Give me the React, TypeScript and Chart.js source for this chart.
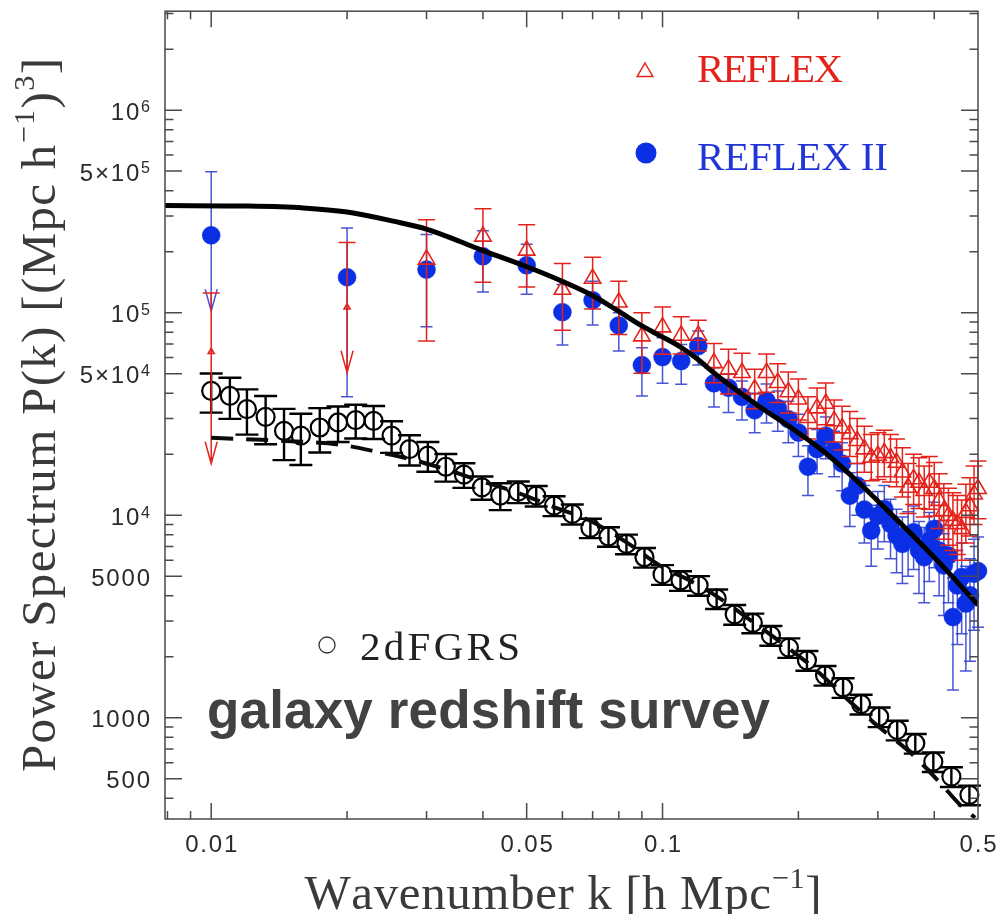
import React, { useEffect, useRef } from "react";
import { Chart, registerables } from "chart.js";

Chart.register(...registerables);

// ---------------- data ----------------
// REFLEX (red open triangles)
const reflexK = [
  0.01, 0.02, 0.03, 0.04, 0.05, 0.06, 0.07, 0.08, 0.09, 0.1,
  0.11, 0.12, 0.13, 0.14, 0.15, 0.16, 0.17, 0.18, 0.19, 0.2,
  0.21, 0.22, 0.23, 0.24, 0.25, 0.26, 0.27, 0.28, 0.29, 0.3,
  0.31, 0.32, 0.33, 0.34, 0.35, 0.36, 0.37, 0.38, 0.39, 0.4,
  0.41, 0.42, 0.43, 0.44, 0.45, 0.46, 0.47, 0.48, 0.49, 0.5,
];
const reflexP = [
  64100, 106400, 183400, 238000, 203100, 130100, 147400, 112600, 76600, 84800,
  77200, 77200, 56500, 52500, 50500, 41900, 50500, 45100, 40600, 37400,
  30300, 33800, 35600, 29200, 26900, 25200, 23300, 21200, 19300, 19700,
  20300, 19200, 18200, 16300, 13700, 15100, 14500, 13200, 14500, 13500,
  11800, 10500, 9950, 9410, 9060, 8560, 10300, 11100, 12700, 13500,
];
const reflexLo = [
  17950, 50500, 72400, 141300, 134000, 82000, 104400, 78100, 50200, 62300,
  62500, 64600, 45100, 39700, 40000, 33500, 40500, 36000, 32000, 29500,
  23800, 26800, 28000, 23000, 21000, 19500, 18000, 16300, 14800, 15000,
  15500, 14600, 13800, 12300, 10200, 11300, 10800, 9800, 10700, 9900,
  8600, 7600, 7100, 6700, 6400, 6000, 7300, 7900, 9000, 9600,
];
const reflexHi = [
  125000, 222000, 287600, 326000, 272000, 174700, 187700, 142900, 99800, 106800,
  95400, 91800, 70500, 65900, 63000, 52500, 62500, 56000, 51000, 47000,
  38500, 42500, 45000, 37000, 34500, 32500, 30000, 27500, 25000, 25500,
  26300, 25000, 23800, 21500, 18000, 20000, 19200, 17500, 19500, 18200,
  16000, 14300, 13600, 12900, 12500, 11900, 14200, 15300, 17500, 18500,
];
const reflexUpperLimits = [0.01, 0.02];

// REFLEX II (blue filled circles)
const reflex2K = [
  0.01, 0.02, 0.03, 0.04, 0.05, 0.06, 0.07, 0.08, 0.09, 0.1,
  0.11, 0.12, 0.13, 0.14, 0.15, 0.16, 0.17, 0.18, 0.19, 0.2,
  0.21, 0.22, 0.23, 0.24, 0.25, 0.26, 0.27, 0.28, 0.29, 0.3,
  0.31, 0.32, 0.33, 0.34, 0.35, 0.36, 0.37, 0.38, 0.39, 0.4,
  0.41, 0.42, 0.43, 0.44, 0.45, 0.46, 0.47, 0.48, 0.49, 0.5,
];
const reflex2P = [
  241000, 149600, 163200, 189800, 171400, 100600, 115200, 86500, 55100, 60400,
  57700, 68400, 44800, 42600, 38400, 33000, 36700, 33800, 29800, 25600,
  17350, 21200, 24700, 20800, 18000, 12490, 14000, 10660, 8400, 9950,
  10740, 9060, 7940, 7220, 7670, 8240, 6690, 6200, 7500, 8560,
  6690, 5650, 6320, 3140, 4500, 4950, 3660, 4020, 5140, 5300,
];
const reflex2Lo = [
  101700, 38400, 85100, 126600, 123400, 69200, 86800, 64600, 38800, 44800,
  44300, 55100, 34200, 32100, 29500, 25500, 28500, 26000, 22800, 19500,
  12500, 16000, 19000, 15500, 13200, 8800, 10000, 7300, 5600, 6800,
  7400, 6100, 5200, 4600, 5000, 5400, 4100, 3700, 4700, 5500,
  4000, 3200, 3700, 1370, 2300, 2600, 1700, 1900, 2700, 2800,
];
const reflex2Hi = [
  497000, 262000, 243500, 254000, 218000, 137600, 142900, 99800, 67100, 75100,
  69700, 81100, 53500, 49800, 46000, 40000, 44500, 41000, 36500, 31500,
  22000, 26500, 30500, 26000, 22800, 16200, 18000, 14000, 11200, 13100,
  14000, 12000, 10700, 9800, 10400, 11100, 9300, 8700, 10300, 11600,
  9400, 8100, 8900, 4900, 6700, 7300, 5600, 6100, 7600, 7800,
];
const reflex2UpperLimits = [0.01];

// 2dFGRS (black open circles)
const twodfK = [
  0.01, 0.011, 0.012, 0.0132, 0.0145, 0.0158, 0.0174, 0.0191, 0.0209, 0.0229,
  0.0251, 0.0275, 0.0302, 0.0331, 0.0363, 0.0398, 0.0437, 0.0479, 0.0525, 0.0575,
  0.0631, 0.0692, 0.0759, 0.0832, 0.0912, 0.1, 0.1096, 0.1202, 0.1318, 0.1445,
  0.1585, 0.1738, 0.1905, 0.2089, 0.2291, 0.2512, 0.2754, 0.302, 0.3311, 0.3631,
  0.3981, 0.4365, 0.4786,
];
const twodfP = [
  41100, 38800, 33400, 30600, 26100, 24700, 27100, 28700, 29500, 29200,
  24700, 21200, 19700, 17350, 15850, 13720, 12490, 13070, 12490, 11150,
  10150, 8660, 7850, 7220, 6200, 5100, 4760, 4500, 3870, 3240,
  2940, 2550, 2220, 1920, 1620, 1410, 1168, 1011, 870, 748,
  607, 512, 416,
];
const twodfErr = [
  9000, 8900, 8400, 8200, 7400, 7000, 6700, 5700, 5600, 5400,
  4400, 3600, 3300, 2700, 2200, 1800, 1900, 1600, 1450, 1250,
  1150, 950, 870, 800, 690, 570, 530, 500, 430, 360,
  325, 285, 245, 215, 180, 157, 130, 112, 97, 83,
  67, 57, 46,
];

// model curves
const modelK = [
  0.0079, 0.012, 0.016, 0.02, 0.0253, 0.0301, 0.0357, 0.0399, 0.0499, 0.0599,
  0.0698, 0.0797, 0.0896, 0.0992, 0.1098, 0.1189, 0.1292, 0.1361, 0.1619, 0.1915,
  0.2265, 0.2694, 0.3187, 0.3771, 0.426, 0.5,
];
const modelP = [
  338000, 336000, 329000, 314000, 283000, 258000, 224000, 203000, 169000, 143000,
  122000, 102000, 86500, 76600, 67500, 59500, 51000, 46500, 35000, 27300,
  20800, 14800, 10300, 7090, 5340, 3600,
];
const linearK = [
  0.01, 0.015, 0.0193, 0.0237, 0.0274, 0.0327, 0.0394, 0.0475, 0.0571, 0.0689,
  0.0831, 0.1, 0.1158, 0.136, 0.156, 0.1879, 0.2183, 0.2625, 0.3018, 0.3574,
  0.4111, 0.456, 0.4924,
];
const linearP = [
  24100, 23200, 22300, 20400, 19000, 17000, 14800, 12970, 11030, 9410,
  7360, 5540, 4720, 3800, 3050, 2250, 1730, 1180, 900, 660,
  480, 372, 321,
];

// axes
const xMin = 0.0079;
const xMax = 0.5;
const yMin = 316.2;
const yMax = 3.08e6;
const xTickValues = [0.01, 0.05, 0.1, 0.5];
const xTickLabels = ["0.01", "0.05", "0.1", "0.5"];
const xMinorTicks = [0.008, 0.009, 0.02, 0.03, 0.04, 0.06, 0.07, 0.08, 0.09, 0.2, 0.3, 0.4];
const yTickValues = [500, 1000, 5000, 10000, 50000, 100000, 500000, 1000000];
const yTickLabels = ["500", "1000", "5000", "10^4", "5×10^4", "10^5", "5×10^5", "10^6"];

const xTitle = "Wavenumber k [h Mpc^{−1}]";
const yTitle = "Power Spectrum P(k) [(Mpc h^{−1})^3]";
const legendReflex = "REFLEX";
const legendReflex2 = "REFLEX II";
const legend2df = "2dFGRS";
const annotation = "galaxy redshift survey";

// ---------------- helpers ----------------
const SERIF = '"Liberation Serif", "Times New Roman", serif';
const SANS = '"Liberation Sans", Arial, sans-serif';
const RED = "#e3231b";
const BLUE = "#0b2fe4";

type Glyph = { ch: string; sup: boolean };
function parseRich(s: string): Glyph[] {
  const out: Glyph[] = [];
  for (let i = 0; i < s.length; i++) {
    const c = s[i];
    if (c === "^") {
      if (s[i + 1] === "{") {
        const end = s.indexOf("}", i + 2);
        for (const ch of s.slice(i + 2, end)) out.push({ ch, sup: true });
        i = end;
      } else {
        out.push({ ch: s[i + 1], sup: true });
        i++;
      }
    } else out.push({ ch: c, sup: false });
  }
  return out;
}

type RichOpts = {
  size: number;
  family: string;
  weight?: string;
  color: string;
  align: "left" | "center" | "right";
  spacing?: number;
  width?: number;
  supScale?: number;
  supRise?: number;
};
function drawRich(ctx: CanvasRenderingContext2D, text: string, x: number, y: number, o: RichOpts) {
  const glyphs = parseRich(text);
  const w = o.weight || "normal";
  const mainFont = `${w} ${o.size}px ${o.family}`;
  const supSize = o.size * (o.supScale ?? 0.65);
  const supFont = `${w} ${supSize}px ${o.family}`;
  ctx.save();
  try {
    (ctx as any).letterSpacing = "0px";
  } catch (e) {}
  const widths = glyphs.map((g) => {
    ctx.font = g.sup ? supFont : mainFont;
    return ctx.measureText(g.ch).width;
  });
  const base = widths.reduce((a, b) => a + b, 0);
  let sp = o.spacing ?? 0;
  if (o.width != null && glyphs.length > 1) sp = (o.width - base) / (glyphs.length - 1);
  const total = base + sp * (glyphs.length - 1);
  let cx = o.align === "center" ? x - total / 2 : o.align === "right" ? x - total : x;
  ctx.fillStyle = o.color;
  ctx.textBaseline = "alphabetic";
  ctx.textAlign = "left";
  glyphs.forEach((g, i) => {
    ctx.font = g.sup ? supFont : mainFont;
    ctx.fillText(g.ch, cx, g.sup ? y - o.size * (o.supRise ?? 0.4) : y);
    cx += widths[i] + sp;
  });
  ctx.restore();
}

function triPath(ctx: CanvasRenderingContext2D, x: number, y: number, r: number) {
  ctx.beginPath();
  ctx.moveTo(x, y - r);
  ctx.lineTo(x + 0.866 * r, y + 0.5 * r);
  ctx.lineTo(x - 0.866 * r, y + 0.5 * r);
  ctx.closePath();
}

type ErrCfg = {
  k: number[];
  lo: number[];
  hi: number[];
  limits: number[];
  color: string;
  width: number;
  cap: number;
};

const errByDataset: Record<number, ErrCfg> = {
  2: { k: reflexK, lo: reflexLo, hi: reflexHi, limits: reflexUpperLimits, color: RED, width: 1.5, cap: 17 },
  3: { k: reflex2K, lo: reflex2Lo, hi: reflex2Hi, limits: reflex2UpperLimits, color: "rgba(40,55,205,0.85)", width: 1.5, cap: 12 },
  4: {
    k: twodfK,
    lo: twodfP.map((p, i) => p - twodfErr[i]),
    hi: twodfP.map((p, i) => p + twodfErr[i]),
    limits: [],
    color: "#000",
    width: 2.4,
    cap: 23,
  },
};

const decor = {
  id: "decor",
  beforeDatasetDraw(chart: any, args: any) {
    const cfg = errByDataset[args.index];
    if (!cfg) return;
    const { ctx } = chart;
    const xs = chart.scales.x;
    const ys = chart.scales.y;
    ctx.save();
    ctx.strokeStyle = cfg.color;
    ctx.lineWidth = cfg.width;
    ctx.lineCap = "butt";
    cfg.k.forEach((k, i) => {
      const px = xs.getPixelForValue(k);
      const pLo = ys.getPixelForValue(cfg.lo[i]);
      const pHi = ys.getPixelForValue(cfg.hi[i]);
      const isLimit = cfg.limits.includes(k);
      ctx.beginPath();
      ctx.moveTo(px, pHi);
      ctx.lineTo(px, pLo);
      ctx.moveTo(px - cfg.cap / 2, pHi);
      ctx.lineTo(px + cfg.cap / 2, pHi);
      if (isLimit) {
        ctx.moveTo(px - 6, pLo - 22);
        ctx.lineTo(px, pLo);
        ctx.lineTo(px + 6, pLo - 22);
      } else {
        ctx.moveTo(px - cfg.cap / 2, pLo);
        ctx.lineTo(px + cfg.cap / 2, pLo);
      }
      ctx.stroke();
    });
    ctx.restore();
  },
  afterDraw(chart: any) {
    const { ctx, chartArea: a } = chart;
    const xs = chart.scales.x;
    const ys = chart.scales.y;
    ctx.save();
    // frame
    ctx.strokeStyle = "#4a4a4a";
    ctx.lineWidth = 1.5;
    ctx.strokeRect(a.left, a.top, a.right - a.left, a.bottom - a.top);
    // x ticks
    ctx.beginPath();
    const xTick = (v: number, len: number) => {
      const px = xs.getPixelForValue(v);
      ctx.moveTo(px, a.bottom);
      ctx.lineTo(px, a.bottom - len);
      ctx.moveTo(px, a.top);
      ctx.lineTo(px, a.top + len);
    };
    xTickValues.forEach((v) => v < xMax && xTick(v, 16));
    xMinorTicks.forEach((v) => xTick(v, 8));
    // y ticks
    for (let d = 2; d <= 6; d++) {
      for (let m = 1; m <= 9; m++) {
        const v = m * Math.pow(10, d);
        if (v <= yMin || v >= yMax) continue;
        const len = m === 1 || m === 5 ? 17 : 8.5;
        const py = ys.getPixelForValue(v);
        ctx.moveTo(a.left, py);
        ctx.lineTo(a.left + len, py);
        ctx.moveTo(a.right, py);
        ctx.lineTo(a.right - len, py);
      }
    }
    ctx.stroke();
    ctx.restore();

    // tick labels
    xTickValues.forEach((v, i) => {
      drawRich(ctx, xTickLabels[i], xs.getPixelForValue(v), a.bottom + 33, {
        size: 24, family: SANS, color: "#2b2b2b", align: "center", spacing: 1.8,
      });
    });
    yTickValues.forEach((v, i) => {
      drawRich(ctx, yTickLabels[i], a.left - 15, ys.getPixelForValue(v) + 9.5, {
        size: 24, family: SANS, color: "#2b2b2b", align: "right", spacing: 1.8, supScale: 0.67, supRise: 0.3,
      });
    });

    // axis titles
    drawRich(ctx, xTitle, 563, 909, {
      size: 49, family: SERIF, color: "#3a3a3a", align: "center", width: 517, supScale: 0.62, supRise: 0.42,
    });
    ctx.save();
    ctx.translate(55, 415);
    ctx.rotate(-Math.PI / 2);
    drawRich(ctx, yTitle, 0, 0, {
      size: 49, family: SERIF, color: "#3a3a3a", align: "center", width: 714, supScale: 0.62, supRise: 0.42,
    });
    ctx.restore();

    // legend
    ctx.save();
    ctx.strokeStyle = RED;
    ctx.lineWidth = 1.5;
    triPath(ctx, 645, 72, 9);
    ctx.stroke();
    ctx.fillStyle = BLUE;
    ctx.beginPath();
    ctx.arc(646, 153, 10.5, 0, Math.PI * 2);
    ctx.fill();
    ctx.strokeStyle = "#333";
    ctx.lineWidth = 1.3;
    ctx.beginPath();
    ctx.arc(327, 645, 8, 0, Math.PI * 2);
    ctx.stroke();
    ctx.restore();
    drawRich(ctx, legendReflex, 697, 82, { size: 41, family: SERIF, color: RED, align: "left", width: 146 });
    drawRich(ctx, legendReflex2, 697, 170, { size: 41, family: SERIF, color: "#2236d8", align: "left", width: 191 });
    drawRich(ctx, legend2df, 360, 660, { size: 41, family: SERIF, color: "#222", align: "left", width: 160 });
    drawRich(ctx, annotation, 207, 728, {
      size: 53, family: SANS, weight: "bold", color: "#424242", align: "left", width: 563,
    });
  },
};

function pts(k: number[], p: number[]) {
  return k.map((x, i) => ({ x, y: p[i] }));
}

export default function App() {
  const ref = useRef<HTMLCanvasElement>(null);
  useEffect(() => {
    const canvas = ref.current;
    if (!canvas) return;
    const chart = new Chart(canvas, {
      type: "scatter",
      data: {
        datasets: [
          {
            label: "model",
            data: pts(modelK, modelP),
            showLine: true,
            borderColor: "#000",
            borderWidth: 5,
            pointRadius: 0,
            cubicInterpolationMode: "monotone",
          } as any,
          {
            label: "linear",
            data: pts(linearK, linearP),
            showLine: true,
            borderColor: "#0a0a0a",
            borderWidth: 4,
            borderDash: [22, 13],
            pointRadius: 0,
            cubicInterpolationMode: "monotone",
          } as any,
          {
            label: legendReflex,
            data: pts(reflexK, reflexP),
            pointStyle: "triangle",
            pointRadius: (c: any) => (reflexUpperLimits.includes(reflexK[c.dataIndex]) ? 3.5 : 9.5),
            backgroundColor: "rgba(0,0,0,0)",
            borderColor: RED,
            borderWidth: 1.6,
            clip: false,
          } as any,
          {
            label: legendReflex2,
            data: pts(reflex2K, reflex2P),
            pointStyle: "circle",
            pointRadius: 9,
            backgroundColor: BLUE,
            borderColor: BLUE,
            borderWidth: 0.5,
            clip: false,
          } as any,
          {
            label: legend2df,
            data: pts(twodfK, twodfP),
            pointStyle: "circle",
            pointRadius: 9,
            backgroundColor: "rgba(0,0,0,0)",
            borderColor: "#000",
            borderWidth: 2.2,
            clip: false,
          } as any,
        ],
      },
      options: {
        responsive: false,
        animation: false,
        events: [],
        layout: { padding: { left: 165, right: 19, top: 9, bottom: 95 } },
        plugins: { legend: { display: false }, tooltip: { enabled: false } },
        scales: {
          x: { type: "logarithmic", min: xMin, max: xMax, display: false },
          y: { type: "logarithmic", min: yMin, max: yMax, display: false },
        },
      },
      plugins: [decor],
    });
    return () => chart.destroy();
  }, []);
  return (
    <div style={{ position: "fixed", left: 0, top: 0, width: 997, height: 914, background: "#fff" }}>
      <canvas ref={ref} width={997} height={914} style={{ display: "block", width: 997, height: 914 }} />
    </div>
  );
}
